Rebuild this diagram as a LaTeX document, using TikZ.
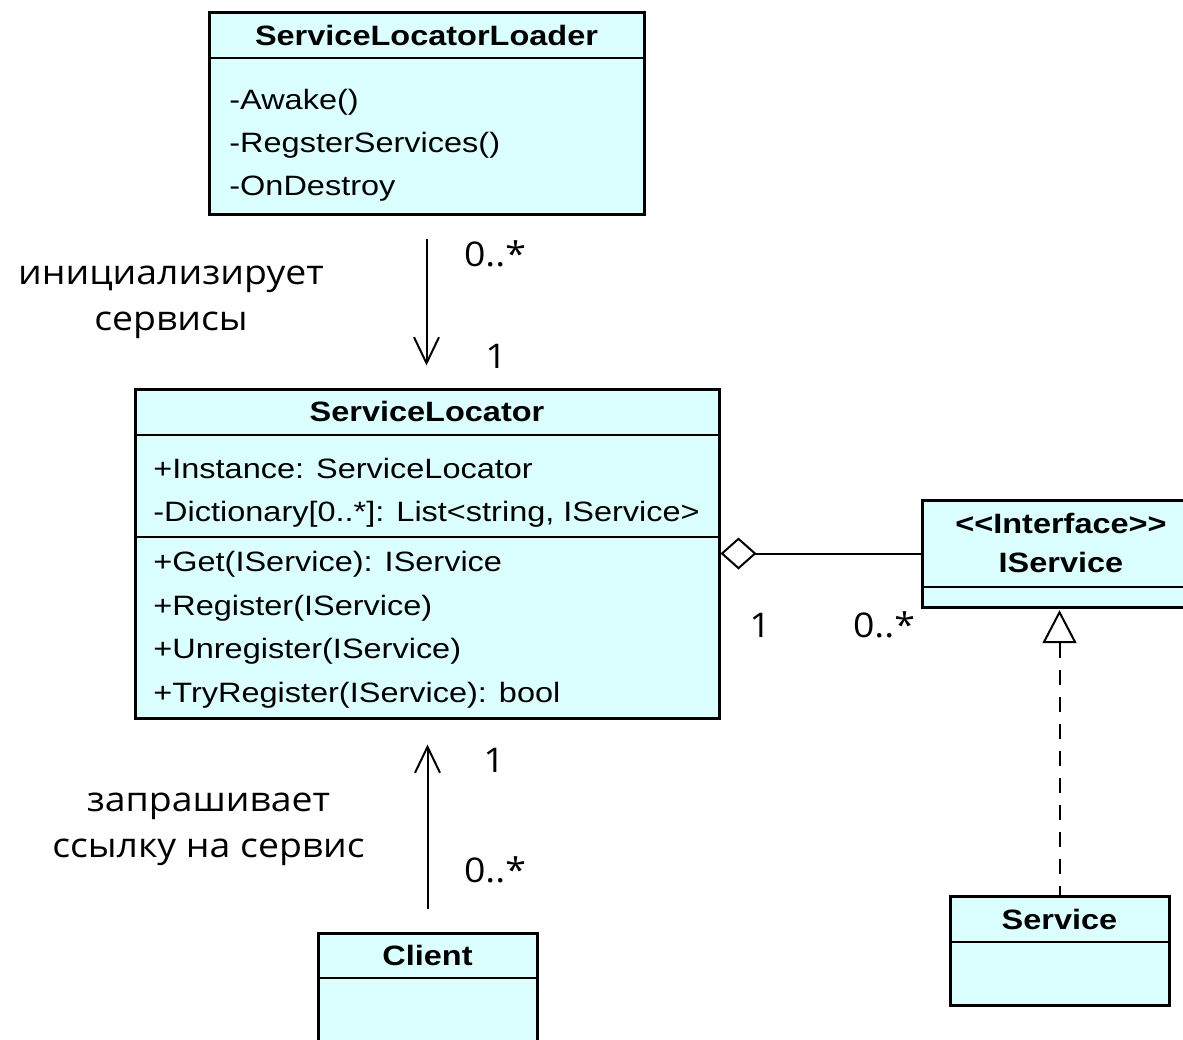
\documentclass[tikz,border=0pt]{standalone}
\usepackage{fontspec}
\setmainfont{Liberation Sans}[FakeStretch=1.16]
\newfontfamily\notefont{Open Sans}[FakeStretch=1.1]
\usetikzlibrary{arrows.meta,positioning,fit}
\definecolor{classfill}{RGB}{219,255,255}

\begin{document}
\begin{tikzpicture}[x=0.5pt,y=-0.5pt,
  cls/.style={draw,fill=classfill,line width=1.5pt,inner sep=0pt},
  sep/.style={line width=1.3pt},
  ttl/.style={font=\bfseries\fontsize{14}{17}\selectfont,inner sep=0pt,text height=10pt,text depth=0pt},
  mem/.style={font=\fontsize{14}{17}\selectfont,anchor=west,inner sep=0pt,text height=10pt,text depth=0pt},
  mult/.style={font=\notefont\fontsize{17}{20}\selectfont,inner sep=0pt,text height=12.1pt,text depth=0pt},
  note/.style={font=\notefont\fontsize{17}{23}\selectfont,align=center,inner sep=0pt},
  assoc/.style={line width=1pt,-{Straight Barb[length=13pt,width=12.5pt]}},
  aggr/.style={line width=1pt,{Diamond[open,length=18pt,width=16pt]}-},
  realize/.style={line width=1pt,dash pattern=on 7.5pt off 6pt,{Triangle[open,length=16.5pt,width=17pt]}-}]
\useasboundingbox (0,0) rectangle (1183,1039);
\clip (0,0) rectangle (1183,1039);

% ServiceLocatorLoader
\node[cls,fit={(209,12) (644,214)}] (loader) {};
\node[ttl] (loadername) at (426.5,35) {ServiceLocatorLoader};
\draw[sep] (loader.west |- 0,58) -- (loader.east |- 0,58);
\foreach \op [count=\i] in {-Awake(),-RegsterServices(),-OnDestroy}
  \node[mem] (loaderop\i) at (229,{56+43*\i}) {\op};

% ServiceLocator
\node[cls,fit={(135,389) (719,718)}] (locator) {};
\node[ttl] (locatorname) at (427,411.5) {ServiceLocator};
\draw[sep] (locator.west |- 0,435) -- (locator.east |- 0,435);
\node[mem] (locatorattr1) at (153,468) {+Instance: ServiceLocator};
\node[mem] (locatorattr2) at (153,511.5) {-Dictionary[0..*]: List<string, IService>};
\draw[sep] (locator.west |- 0,537) -- (locator.east |- 0,537);
\foreach \op [count=\i] in {{+Get(IService): IService},{+Register(IService)},{+Unregister(IService)},{+TryRegister(IService): bool}}
  \node[mem] (locatorop\i) at (153,{518+43.5*\i}) {\op};

% IService
\node[cls,fit={(922,500) (1200,607)}] (iservice) {};
\node[ttl] (iservicestereo) at (1061,523) {<\kern0pt<Interface>\kern0pt>};
\node[ttl] (iservicename) at (1061,562) {IService};
\draw[sep] (iservice.west |- 0,587) -- (iservice.east |- 0,587);

% Service
\node[cls,fit={(950,896) (1169,1005)}] (service) {};
\node[ttl] (servicename) at (1059.5,919) {Service};
\draw[sep] (service.west |- 0,942) -- (service.east |- 0,942);

% Client
\node[cls,fit={(318,933) (537,1060)}] (client) {};
\node[ttl] (clientname) at (427.5,955) {Client};
\draw[sep] (client.west |- 0,978) -- (client.east |- 0,978);

% links
\draw[assoc,shorten <=11.5pt,shorten >=11pt] (loader.south) -- (loader.south |- locator.north);
\draw[assoc,shorten <=11.5pt,shorten >=12.5pt] (client.north) -- (client.north |- locator.south);
\draw[aggr] (locator.east |- iservice.west) -- (iservice.west);
\draw[realize,shorten <=0.8pt] (iservice.south -| service.north) -- (service.north);

% multiplicities
\node[mult] (multloader) at (495,254) {0..*};
\node[mult] (multlocatortop) at (496,356) {1};
\node[mult] (multlocatorbottom) at (494,760) {1};
\node[mult] (multclient) at (495,870) {0..*};
\node[mult] (multlocatorright) at (760,625) {1};
\node[mult] (multiservice) at (884,625) {0..*};

% link labels
\node[note] (initlabel) at (171,298.5) {\strut инициализирует\\\strut сервисы};
\node[note] (requestlabel) at (208.5,825) {\strut запрашивает\\\strut ссылку на сервис};
\end{tikzpicture}
\end{document}
